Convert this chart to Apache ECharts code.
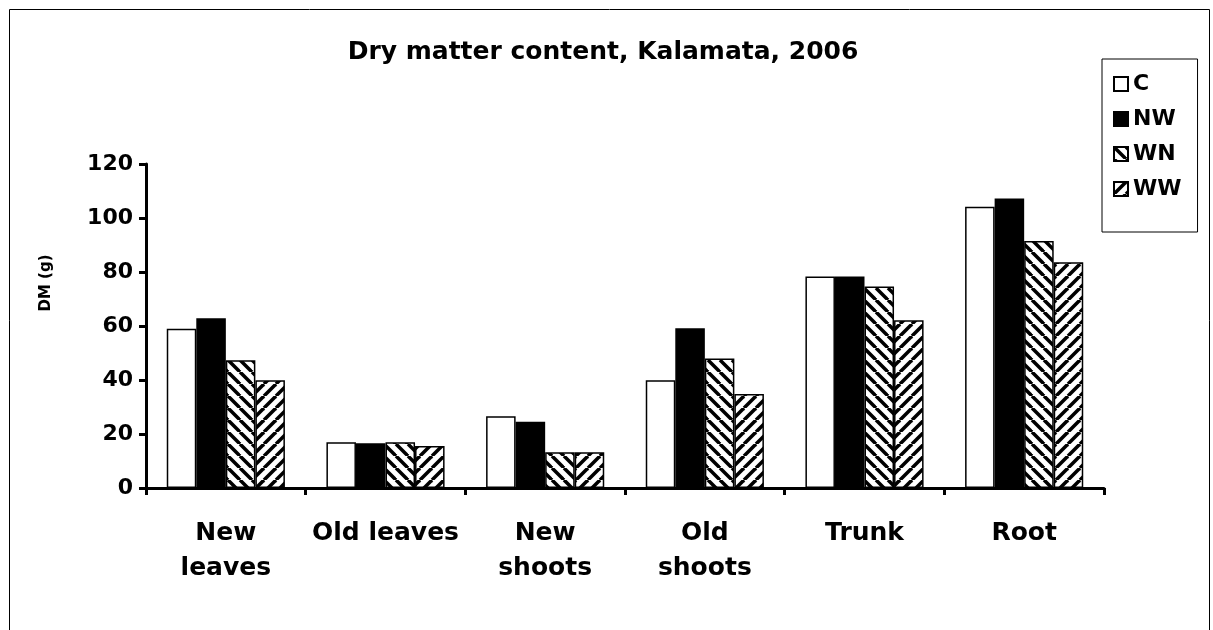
<!DOCTYPE html>
<html>
<head>
<meta charset="utf-8">
<script src="https://cdn.jsdelivr.net/npm/echarts@6/dist/echarts.min.js"></script>
<style>
  html, body { margin: 0; padding: 0; background: #fff; }
  #chart { width: 1213px; height: 630px; }
</style>
</head>
<body>
<div id="chart"></div>
<script>
const categories = ['New\nleaves', 'Old leaves', 'New\nshoots', 'Old\nshoots', 'Trunk', 'Root']
const seriesNames = ['C', 'NW', 'WN', 'WW']
const valuesC = [59.0, 16.9, 26.6, 39.9, 78.3, 104.2]
const valuesNW = [62.9, 16.6, 24.5, 59.2, 78.3, 107.2]
const valuesWN = [47.3, 16.9, 13.2, 48.0, 74.6, 91.5]
const valuesWW = [39.9, 15.6, 13.2, 34.8, 62.1, 83.6]

const font = 'DejaVu Sans'

// diagonal hatch tile; dir 1 = "\\" , dir -1 = "/"
function hatch(dir) {
  const s = 12
  const c = document.createElement('canvas')
  c.width = s
  c.height = s
  const ctx = c.getContext('2d')
  ctx.fillStyle = '#fff'
  ctx.fillRect(0, 0, s, s)
  ctx.strokeStyle = '#000'
  ctx.lineWidth = 3.5
  for (const k of [-s, 0, s]) {
    ctx.beginPath()
    if (dir > 0) {
      ctx.moveTo(k, 0)
      ctx.lineTo(k + s, s)
    } else {
      ctx.moveTo(k, s)
      ctx.lineTo(k + s, 0)
    }
    ctx.stroke()
  }
  return { image: c, repeat: 'repeat' }
}

const fills = ['#ffffff', '#000000', hatch(1), hatch(-1)]
const seriesData = [valuesC, valuesNW, valuesWN, valuesWW]

const myChart = echarts.init(document.getElementById('chart'))

const option = {
  animation: false,
  backgroundColor: '#fff',
  title: {
    text: 'Dry matter content, Kalamata, 2006',
    left: 598,
    top: 35,
    textAlign: 'center',
    textStyle: { fontFamily: font, fontWeight: 'bold', fontSize: 25, color: '#000' },
  },
  legend: {
    orient: 'vertical',
    left: 1102,
    top: 59,
    padding: [14, 16, 32, 11],
    itemGap: 13,
    itemWidth: 14,
    itemHeight: 14,
    borderColor: '#000',
    borderWidth: 1,
    backgroundColor: '#fff',
    icon: 'rect',
    data: seriesNames,
    textStyle: { fontFamily: font, fontWeight: 'bold', fontSize: 22, color: '#000' },
  },
  grid: {
    left: 146,
    right: 109,
    top: 164,
    bottom: 142,
  },
  xAxis: {
    type: 'category',
    data: categories,
    axisLine: { lineStyle: { color: '#000', width: 3 } },
    axisTick: { show: true, length: 7, lineStyle: { color: '#000', width: 3 } },
    axisLabel: {
      margin: 28,
      interval: 0,
      lineHeight: 35,
      fontFamily: font,
      fontWeight: 'bold',
      fontSize: 25,
      color: '#000',
    },
  },
  yAxis: {
    type: 'value',
    min: 0,
    max: 120,
    interval: 20,
    axisLine: { show: true, lineStyle: { color: '#000', width: 3 } },
    axisTick: { show: true, length: 7, lineStyle: { color: '#000', width: 3 } },
    splitLine: { show: false },
    axisLabel: {
      margin: 13,
      fontFamily: font,
      fontWeight: 'bold',
      fontSize: 22,
      color: '#000',
    },
  },
  graphic: [
    {
      type: 'rect',
      silent: true,
      shape: { x: 9.5, y: 9.5, width: 1200, height: 700 },
      style: { fill: 'none', stroke: '#000', lineWidth: 1 },
      z: -1,
    },
    {
      type: 'text',
      x: 46,
      y: 283,
      rotation: Math.PI / 2,
      style: {
        text: 'DM (g)',
        fontFamily: font,
        fontWeight: 'bold',
        fontSize: 15,
        fill: '#000',
        align: 'center',
        verticalAlign: 'middle',
      },
    },
  ],
  series: seriesNames.map((name, i) => ({
    name: name,
    type: 'bar',
    barGap: '0%',
    barCategoryGap: '26%',
    data: seriesData[i],
    itemStyle: {
      color: fills[i],
      borderColor: '#000',
      borderWidth: 1.5,
    },
  })),
}

option && myChart.setOption(option)
</script>
</body>
</html>
